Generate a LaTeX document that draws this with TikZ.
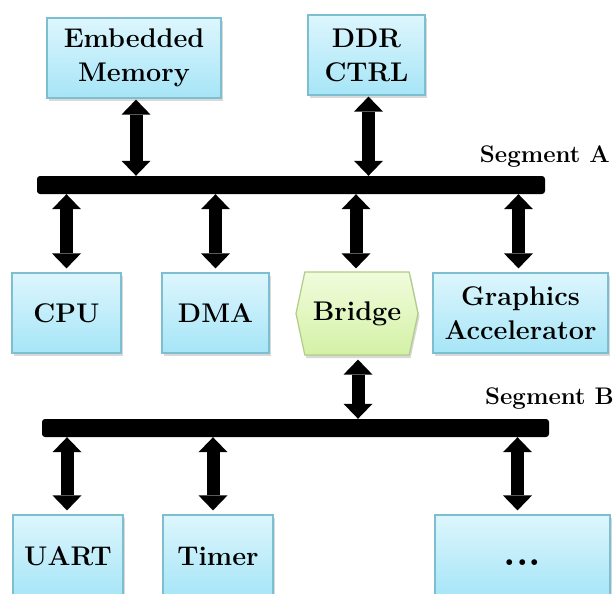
\documentclass[tikz,border=0pt]{standalone}
\usetikzlibrary{arrows.meta,shadows,shapes.symbols}

\definecolor{boxtop}{HTML}{DDF6FD}
\definecolor{boxbot}{HTML}{A6E5F7}
\definecolor{boxline}{HTML}{7DBFD0}
\definecolor{bridgetop}{HTML}{F1FCDC}
\definecolor{bridgebot}{HTML}{D3F1A6}
\definecolor{bridgeline}{HTML}{B0CC86}

\tikzset{
  boxtext/.style={font=\fontsize{27}{34}\selectfont\bfseries, align=center, inner sep=0pt},
  unit/.style={boxtext, rectangle, draw=boxline, line width=1.2pt,
    top color=boxtop, bottom color=boxbot,
    drop shadow={shadow xshift=1.5pt, shadow yshift=-3pt, opacity=0.25, fill=black!60}},
  bridgebox/.style={boxtext, shape=signal, signal to=east and west,
    signal pointer angle=156, draw=bridgeline, line width=1.2pt,
    top color=bridgetop, bottom color=bridgebot,
    drop shadow={shadow xshift=1.5pt, shadow yshift=-3pt, opacity=0.25, fill=black!60}},
  busbar/.style={rectangle, fill=black, rounded corners=3pt, inner sep=0pt,
    minimum height=18pt},
  seglabel/.style={font=\fontsize{24}{28}\selectfont\bfseries, inner sep=0pt},
  link/.style={line width=13pt,
    {Triangle[width=29pt,length=15pt,line width=0pt]}-{Triangle[width=29pt,length=15pt,line width=0pt]}},
}

\begin{document}
\begin{tikzpicture}[x=1pt, y=-1pt]
  \useasboundingbox (0,0) rectangle (614,594);

  % buses
  \node[busbar, minimum width=508pt] (busA) at (291,185) {};
  \node[busbar, minimum width=507pt] (busB) at (295.5,428) {};
  \node[seglabel, anchor=base east] (segA) at (610,162) {Segment A};
  \node[seglabel, anchor=base east] (segB) at (614,404) {Segment B};

  % memory side of segment A
  \node[unit, minimum width=174pt, minimum height=80pt] (mem) at (134,58) {Embedded\\Memory};
  \node[unit, minimum width=117pt, minimum height=80pt] (ddr) at (366.5,55) {DDR\\CTRL};

  % masters and bridge on segment A
  \node[unit, minimum width=109pt, minimum height=80pt] (cpu) at (66.5,313) {CPU};
  \node[unit, minimum width=107pt, minimum height=80pt] (dma) at (215.5,313) {DMA};
  \node[bridgebox, minimum width=122pt, minimum height=83pt] (bridge) at (357,313.5) {Bridge};
  \node[unit, minimum width=175pt, minimum height=80pt] (gfx) at (520.5,313) {Graphics\\Accelerator};

  % peripherals on segment B
  \node[unit, minimum width=110pt, minimum height=82pt] (uart) at (68,556) {UART};
  \node[unit, minimum width=110pt, minimum height=82pt] (timer) at (218,556) {Timer};
  \node[unit, minimum width=175pt, minimum height=82pt] (more) at (522.5,556)
    {\vphantom{A}{\fontsize{40}{40}\selectfont ...}};

  % connections to segment A
  \draw[link] ([xshift=2pt,yshift=-1pt]mem.south) -- ([xshift=2pt]mem.south |- busA.north);
  \draw[link] ([xshift=2pt,yshift=-1pt]ddr.south) -- ([xshift=2pt]ddr.south |- busA.north);
  \draw[link] (cpu.north |- busA.south) -- ([yshift=4pt]cpu.north);
  \draw[link] (dma.north |- busA.south) -- ([yshift=4pt]dma.north);
  \draw[link] ([xshift=-1pt]bridge.north |- busA.south) -- ([xshift=-1pt,yshift=3pt]bridge.north);
  \draw[link] ([xshift=-2pt]gfx.north |- busA.south) -- ([xshift=-2pt,yshift=4pt]gfx.north);

  % bridge to segment B
  \draw[link] ([xshift=1pt,yshift=-4pt]bridge.south) -- ([xshift=1pt]bridge.south |- busB.north);

  % connections to segment B
  \draw[link] ([xshift=-1pt]uart.north |- busB.south) -- ([xshift=-1pt,yshift=4pt]uart.north);
  \draw[link] ([xshift=-5pt]timer.north |- busB.south) -- ([xshift=-5pt,yshift=4pt]timer.north);
  \draw[link] ([xshift=-5pt]more.north |- busB.south) -- ([xshift=-5pt,yshift=4pt]more.north);
\end{tikzpicture}
\end{document}
